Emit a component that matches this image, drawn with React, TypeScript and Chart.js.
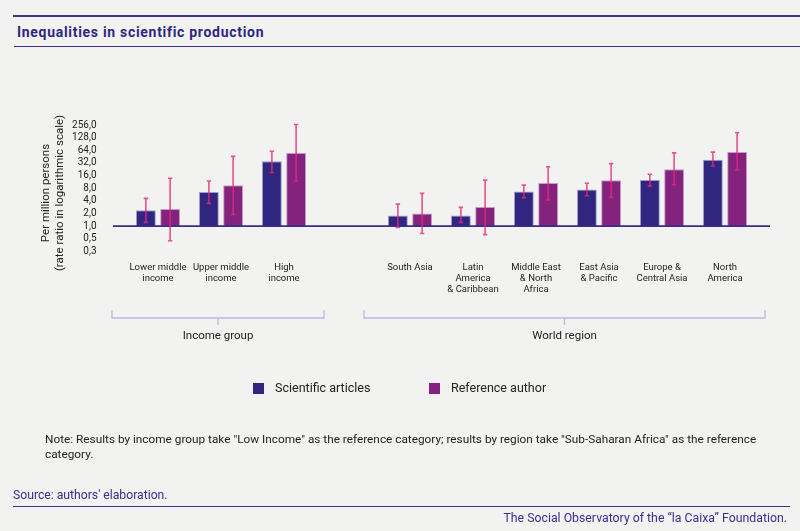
import { useEffect, useRef } from 'react'
import { Chart, registerables } from 'chart.js'

Chart.register(...registerables)

const categories = [
  ['Lower middle', 'income'],
  ['Upper middle', 'income'],
  ['High', 'income'],
  '',
  ['South Asia'],
  ['Latin', 'America', '& Caribbean'],
  ['Middle East', '& North', 'Africa'],
  ['East Asia', '& Pacific'],
  ['Europe &', 'Central Asia'],
  ['North', 'America'],
]

const articles = [2.4, 6.5, 35, null, 1.8, 1.8, 6.7, 7.5, 12.5, 38]
const articlesLow = [1.23, 3.5, 19, null, 0.93, 1.23, 4.75, 5.3, 9.0, 27]
const articlesHigh = [4.6, 11.9, 61, null, 3.35, 2.8, 9.5, 10.5, 17.2, 58]

const reference = [2.55, 9.4, 55, null, 2.0, 2.85, 10.7, 12.4, 22.6, 58.6]
const referenceLow = [0.45, 1.9, 11.7, null, 0.67, 0.63, 4.2, 4.85, 9.7, 21.8]
const referenceHigh = [13.8, 46, 263, null, 6.05, 12.5, 26, 30.8, 55.5, 167]

const tickValues = [0.25, 0.5, 1, 2, 4, 8, 16, 32, 64, 128, 256]
const tickLabels = ['0,3', '0,5', '1,0', '2,0', '4,0', '8,0', '16,0', '32,0', '64,0', '128,0', '256,0']

const groups = [
  { label: 'Income group', from: 0, to: 2 },
  { label: 'World region', from: 4, to: 9 },
]

const FONT = 'Roboto, "Noto Sans", sans-serif'
const INDIGO = '#30267f'
const PURPLE = '#84237e'
const LINE = '#3d3290'

const errorBars = {
  id: 'errorBars',
  afterDatasetsDraw(chart: any) {
    const { ctx, chartArea, scales } = chart
    const y = scales.y
    const x = scales.x
    // baseline at ratio 1
    const by = y.getPixelForValue(1)
    ctx.save()
    ctx.strokeStyle = '#382d8b'
    ctx.lineWidth = 1.8
    ctx.beginPath()
    ctx.moveTo(chartArea.left - 13.5, by)
    ctx.lineTo(chartArea.right + 13.5, by)
    ctx.stroke()

    const ranges = [
      [articlesLow, articlesHigh],
      [referenceLow, referenceHigh],
    ]
    ctx.strokeStyle = 'rgba(230, 40, 125, 0.8)'
    ctx.lineWidth = 1.6
    ranges.forEach(([lo, hi], di) => {
      const meta = chart.getDatasetMeta(di)
      meta.data.forEach((bar: any, i: number) => {
        if (lo[i] == null || hi[i] == null) return
        const cx = bar.x
        const y1 = y.getPixelForValue(lo[i])
        const y2 = y.getPixelForValue(hi[i])
        ctx.beginPath()
        ctx.moveTo(cx, y1)
        ctx.lineTo(cx, y2)
        ctx.moveTo(cx - 2.2, y1)
        ctx.lineTo(cx + 2.2, y1)
        ctx.moveTo(cx - 2.2, y2)
        ctx.lineTo(cx + 2.2, y2)
        ctx.stroke()
      })
    })

    // group brackets
    ctx.strokeStyle = '#bcb7dd'
    ctx.lineWidth = 1.3
    ctx.fillStyle = '#222'
    ctx.font = `11.5px ${FONT}`
    ctx.textAlign = 'center'
    ctx.textBaseline = 'middle'
    groups.forEach((g) => {
      const l = x.getPixelForValue(g.from) - 46
      const r = x.getPixelForValue(g.to) + 40
      const m = (l + r) / 2
      ctx.beginPath()
      ctx.moveTo(l, 310)
      ctx.lineTo(l, 318)
      ctx.lineTo(r, 318)
      ctx.lineTo(r, 310)
      ctx.moveTo(m, 318)
      ctx.lineTo(m, 325)
      ctx.stroke()
      ctx.fillText(g.label, m, 336)
    })

    // y axis title
    ctx.font = `11.5px ${FONT}`
    ctx.fillStyle = '#222'
    ctx.translate(46, 193)
    ctx.rotate(-Math.PI / 2)
    ctx.fillText('Per million persons', 0, 0)
    ctx.fillText('(rate ratio in logarithmic scale)', 0, 14)
    ctx.restore()
  },
}

function BarChart() {
  const canvas = useRef<HTMLCanvasElement>(null)

  useEffect(() => {
    if (!canvas.current) return
    const chart = new Chart(canvas.current, {
      type: 'bar',
      data: {
        labels: categories,
        datasets: [
          {
            label: 'Scientific articles',
            data: articles,
            base: 1,
            backgroundColor: INDIGO,
            borderColor: '#a39dcd',
            borderWidth: 1,
            borderSkipped: 'bottom',
            categoryPercentage: 0.77,
            barPercentage: 0.82,
          },
          {
            label: 'Reference author',
            data: reference,
            base: 1,
            backgroundColor: PURPLE,
            borderColor: '#c49bc6',
            borderWidth: 1,
            borderSkipped: 'bottom',
            categoryPercentage: 0.77,
            barPercentage: 0.82,
          },
        ],
      } as any,
      options: {
        animation: false,
        responsive: true,
        maintainAspectRatio: false,
        layout: { padding: { top: 125, left: 26.5, right: 43.5, bottom: 219.5 } },
        plugins: { legend: { display: false }, tooltip: { enabled: false } },
        scales: {
          x: {
            grid: { display: false },
            border: { display: false },
            ticks: {
              autoSkip: false,
              maxRotation: 0,
              padding: 3,
              color: '#222',
              font: { family: FONT, size: 9.5, lineHeight: 1.15 },
            },
            afterFit: (s: any) => {
              s.height = 60
            },
          },
          y: {
            type: 'logarithmic',
            min: 0.25,
            max: 256,
            grid: { display: false },
            border: { display: false },
            afterBuildTicks: (s: any) => {
              s.ticks = tickValues.map((v) => ({ value: v }))
            },
            ticks: {
              autoSkip: false,
              padding: 22,
              color: '#222',
              font: { family: FONT, size: 10 },
              callback: (_v: any, i: number) => tickLabels[i],
            },
            afterFit: (s: any) => {
              s.width = 100
            },
          },
        },
      },
      plugins: [errorBars],
    })
    return () => {
      chart.destroy()
    }
  }, [])

  return <canvas ref={canvas} />
}

export default function App() {
  useEffect(() => {
    document.body.style.margin = '0'
    document.body.style.background = '#f2f2f0'
  }, [])

  const abs = (s: any) => ({ position: 'absolute' as const, ...s })
  const text = { fontFamily: FONT, whiteSpace: 'nowrap' as const }

  return (
    <div style={{ position: 'relative', width: 800, height: 531, background: '#f2f2f0', overflow: 'hidden' }}>
      <div style={abs({ left: 13, top: 15, width: 787, height: 1.5, background: LINE })} />
      <div style={abs({ ...text, left: 17, top: 24.5, fontSize: 14, lineHeight: '14px', fontWeight: 700, letterSpacing: '0.7px', color: '#2e2780' })}>
        Inequalities in scientific production
      </div>
      <div style={abs({ left: 14, top: 45.5, width: 786, height: 1.5, background: LINE })} />

      <div style={abs({ left: 0, top: 0, width: 800, height: 531 })}>
        <BarChart />
      </div>

      <div style={abs({ left: 253, top: 383, width: 11, height: 11, background: INDIGO })} />
      <div style={abs({ ...text, left: 275, top: 381, fontSize: 12.5, lineHeight: '14px', color: '#222' })}>
        Scientific articles
      </div>
      <div style={abs({ left: 429, top: 383, width: 11, height: 11, background: PURPLE })} />
      <div style={abs({ ...text, left: 451, top: 381, fontSize: 12.5, lineHeight: '14px', color: '#222' })}>
        Reference author
      </div>

      <div style={abs({ ...text, left: 45, top: 431.5, fontSize: 11.8, lineHeight: '15px', color: '#222' })}>
        Note: Results by income group take "Low Income" as the reference category; results by region take "Sub-Saharan Africa" as the reference
        <br />
        category.
      </div>

      <div style={abs({ ...text, left: 13, top: 488, fontSize: 12.2, lineHeight: '14px', color: '#3b2d8f' })}>
        Source: authors' elaboration.
      </div>
      <div style={abs({ left: 13, top: 505.5, width: 777, height: 1.5, background: LINE })} />
      <div style={abs({ ...text, right: 13, top: 511, fontSize: 12.3, lineHeight: '14px', color: '#3b2d8f' })}>
        The Social Observatory of the “la Caixa” Foundation.
      </div>
    </div>
  )
}
